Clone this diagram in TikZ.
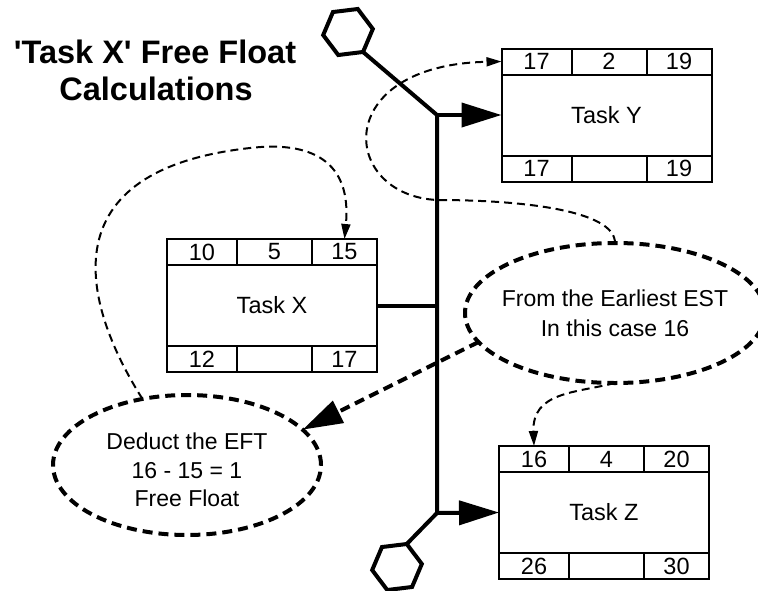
\documentclass[tikz,border=0pt]{standalone}
\usepackage{fontspec}
\setmainfont{Liberation Sans}[Ligatures=TeXOff]
\usetikzlibrary{positioning,shapes.geometric,arrows.meta}

\begin{document}
\begin{tikzpicture}[x=1pt, y=-1pt]
    \tikzstyle{every node} = [align=center, inner sep=0pt, outer sep=0pt]
    \tikzstyle{task} = [draw, line width=2pt, minimum width=210pt, minimum height=81pt, font=\fontsize{23.5}{28}\selectfont]
    \tikzstyle{cell} = [draw, line width=2pt, minimum height=26pt, font=\fontsize{23.5}{28}\selectfont]
    \tikzstyle{hex} = [draw, line width=4pt, regular polygon, regular polygon sides=6, minimum size=50pt, shape border rotate=7]
    \tikzstyle{bubble} = [draw, ellipse, line width=4pt, dash pattern=on 10pt off 6pt, minimum height=140pt]
    \tikzstyle{link} = [line width=4pt]
    \tikzstyle{hint} = [line width=2pt, dash pattern=on 8pt off 5pt, -{Triangle[length=15pt,width=9pt]}]
    \useasboundingbox (0,0) rectangle (758,590);

    % title
    \node[font=\fontsize{32.5}{37}\selectfont\bfseries, anchor=base] (title1) at (155,63) {'Task X' Free Float};
    \node[font=\fontsize{32.5}{37}\selectfont\bfseries, anchor=base] (title2) at (156,100) {Calculations};

    % Task Y
    \node[task] (taskY) at (606.5,115) {Task Y};
    \node[cell, minimum width=70pt, above right=0pt of taskY.north west] (yes) {17};
    \node[cell, minimum width=75pt, right=0pt of yes] (ydur) {2};
    \node[cell, minimum width=65pt, right=0pt of ydur] (yef) {19};
    \node[cell, minimum width=70pt, below right=0pt of taskY.south west] (yls) {17};
    \node[cell, minimum width=75pt, right=0pt of yls] (yfree) {};
    \node[cell, minimum width=65pt, right=0pt of yfree] (ylf) {19};

    % Task X
    \node[task] (taskX) at (272,305.5) {Task X};
    \node[cell, minimum width=70pt, above right=0pt of taskX.north west] (xes) {10};
    \node[cell, minimum width=75pt, right=0pt of xes] (xdur) {5};
    \node[cell, minimum width=65pt, right=0pt of xdur] (xef) {15};
    \node[cell, minimum width=70pt, below right=0pt of taskX.south west] (xls) {12};
    \node[cell, minimum width=75pt, right=0pt of xls] (xfree) {};
    \node[cell, minimum width=65pt, right=0pt of xfree] (xlf) {17};

    % Task Z
    \node[task] (taskZ) at (604,512.5) {Task Z};
    \node[cell, minimum width=70pt, above right=0pt of taskZ.north west] (zes) {16};
    \node[cell, minimum width=75pt, right=0pt of zes] (zdur) {4};
    \node[cell, minimum width=65pt, right=0pt of zdur] (zef) {20};
    \node[cell, minimum width=70pt, below right=0pt of taskZ.south west] (zls) {26};
    \node[cell, minimum width=75pt, right=0pt of zls] (zfree) {};
    \node[cell, minimum width=65pt, right=0pt of zfree] (zlf) {30};

    % network
    \node[hex] (hexTop) at (348,32) {};
    \node[hex] (hexBot) at (397,567) {};
    \coordinate (jY) at (437,115);
    \coordinate (jZ) at (437,513);
    \draw[link] (hexTop.307) -- (jY) -- (jZ) -- (hexBot.67);
    \draw[link] (taskX.east) -- (taskX.east -| jY);
    \draw[link, -{Triangle[length=40pt,width=24pt]}] (jY) -- (taskY.west);
    \draw[link, -{Triangle[length=40pt,width=24pt]}] (jZ) -- (taskZ.west);

    % notes
    \node[bubble, minimum width=300pt] (est) at (615,313) {};
    \node[font=\fontsize{23}{30}\selectfont] (estText) at (est) {From the Earliest EST\\In this case 16};
    \node[bubble, minimum width=268pt] (ded) at (187,465) {};
    \node[font=\fontsize{23}{28.5}\selectfont] (dedText) at ([yshift=-5pt]ded.center) {Deduct the EFT\\16 - 15 = 1\\Free Float};

    \draw[hint] (est.north) .. controls (615,210) and (520,200) .. (437,200) .. controls (340,195) and (330,65) .. (yes.west);
    \draw[hint] (ded.124) .. controls (80,300) and (50,170) .. (250,148) .. controls (310,141) and (352,160) .. (xef.north);
    \draw[hint] (est.south) .. controls (575,393) and (532,392) .. (zes.north);
    \draw[line width=4pt, dash pattern=on 10pt off 6pt, -{Triangle[length=40pt,width=24pt]}] (est.192) -- (ded.17);
\end{tikzpicture}
\end{document}
